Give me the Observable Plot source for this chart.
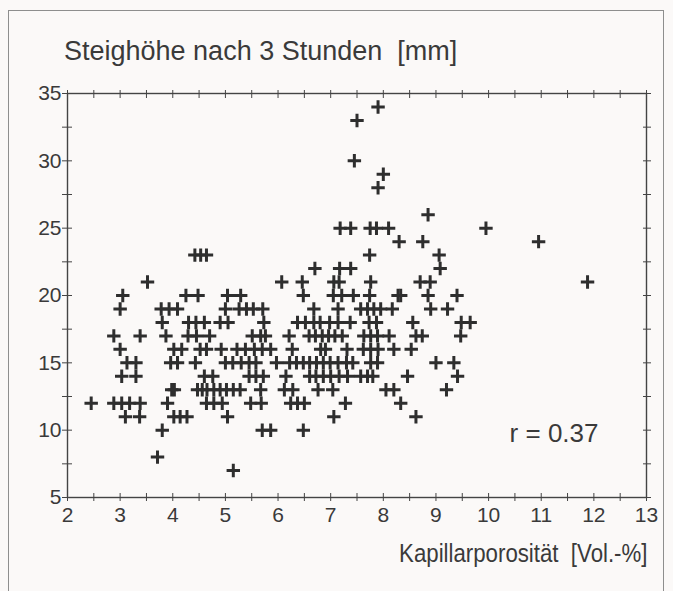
<!DOCTYPE html>
<html><head><meta charset="utf-8">
<script src="https://cdn.jsdelivr.net/npm/d3@7"></script>
<script src="https://cdn.jsdelivr.net/npm/@observablehq/plot@0.6"></script>
<style>
html,body{margin:0;padding:0;background:#fbf9f8;}
#wrap{position:relative;width:673px;height:591px;overflow:hidden;font-family:"Liberation Sans",Arial,sans-serif;color:#3a3a3a;}
#border{position:absolute;left:8px;top:10px;width:656px;height:620px;border:1.5px solid #8e8e8e;box-sizing:border-box;}
#title{position:absolute;left:64px;top:36px;font-size:27px;white-space:pre;}
#xlabel{position:absolute;right:26px;top:538px;font-size:26px;white-space:pre;transform:scaleX(0.855);transform-origin:right center;}
#chart{position:absolute;left:0;top:0;}
</style></head><body>
<div id="wrap"><div id="border"></div><div id="chart"></div><div id="title"></div><div id="xlabel"></div></div>
<script>
// Texts
const titleText = "Steighöhe nach 3 Stunden  [mm]";
const xLabelText = "Kapillarporosität  [Vol.-%]";
const corrLabel = ["r = 0.37"];

// Tick values
const xTickLabels = [2,3,4,5,6,7,8,9,10,11,12,13];
const xTicks = [2,2.5,3,3.5,4,4.5,5,5.5,6,6.5,7,7.5,8,8.5,9,9.5,10,10.5,11,11.5,12,12.5,13];
const yTickLabels = [5,10,15,20,25,30,35];
const yTicks = [5,7.5,10,12.5,15,17.5,20,22.5,25,27.5,30,32.5,35];

// Rise height levels (mm) and the porosity values (Vol.-%) at each level
const levels = [34,33,30,29,28,26,25,24,23,22,21,20,19,18,17,16,15,14,13,12,11,10,8,7];
const x34 = [7.9];
const x33 = [7.5];
const x30 = [7.45];
const x29 = [8.0];
const x28 = [7.9];
const x26 = [8.85];
const x25 = [7.18,7.38,7.75,7.87,8.1,9.95];
const x24 = [8.3,8.75,10.95];
const x23 = [4.42,4.53,4.64,7.74,9.06];
const x22 = [6.7,7.17,7.38,9.08];
const x21 = [3.52,6.07,6.46,7.06,7.16,7.76,8.7,8.89,11.88];
const x20 = [3.05,4.25,4.48,5.04,5.29,6.48,7.05,7.21,7.43,7.74,8.28,8.33,8.85,9.4];
const x19 = [3.0,3.78,3.93,4.09,5.0,5.26,5.4,5.53,5.71,6.68,7.14,7.57,7.7,7.82,7.95,8.17,8.9,9.22];
const x18 = [3.8,4.3,4.44,4.6,4.9,5.05,5.73,6.37,6.52,6.68,6.8,6.98,7.14,7.37,7.73,7.87,8.56,9.48,9.65];
const x17 = [2.88,3.38,3.87,4.29,4.45,4.7,5.51,5.67,5.76,6.21,6.59,6.71,6.84,6.96,7.08,7.22,7.63,7.76,7.89,8.11,8.62,8.74,9.47];
const x16 = [3.0,4.02,4.17,4.52,4.64,4.92,5.22,5.38,5.55,5.7,5.86,6.27,6.81,6.9,7.31,7.62,7.76,7.9,8.2,8.53];
const x15 = [3.13,3.3,3.96,4.09,4.43,5.0,5.14,5.3,5.45,5.58,5.97,6.22,6.35,6.48,6.6,6.73,6.86,6.99,7.14,7.3,7.42,7.76,7.89,9.0,9.34];
const x14 = [3.03,3.3,4.6,4.76,5.45,5.58,5.72,6.15,6.6,6.72,6.86,7.0,7.16,7.32,7.57,7.7,7.8,8.46,9.41];
const x13 = [3.98,4.03,4.47,4.56,4.65,4.78,4.9,5.02,5.15,5.28,5.67,6.12,6.28,6.76,7.04,8.05,8.2,9.2];
const x12 = [2.45,2.88,3.03,3.18,3.38,3.9,4.64,4.78,4.94,5.48,5.68,6.24,6.37,6.5,7.28,8.33];
const x11 = [3.1,3.37,4.02,4.14,4.27,5.04,7.06,8.62];
const x10 = [3.8,5.7,5.86,6.48];
const x8 = [3.71];
const x7 = [5.15];
const levelX = [x34,x33,x30,x29,x28,x26,x25,x24,x23,x22,x21,x20,x19,x18,x17,x16,x15,x14,x13,x12,x11,x10,x8,x7];

const points = levels.flatMap((y, i) => levelX[i].map(x => ({x, y})));

document.getElementById("title").textContent = titleText;
document.getElementById("xlabel").textContent = xLabelText;

const ink = "#3a3a3a";
const chart = Plot.plot({
  width: 673,
  height: 591,
  marginLeft: 67,
  marginRight: 27,
  marginTop: 93,
  marginBottom: 94,
  style: {fontFamily: "'Liberation Sans', Arial, sans-serif", fontSize: "21px", color: ink, background: "transparent", overflow: "visible"},
  x: {domain: [2, 13]},
  y: {domain: [5, 35]},
  marks: [
    Plot.frame({stroke: "#444", strokeWidth: 1.4}),
    Plot.axisX(xTickLabels, {anchor: "bottom", tickSize: 0, tickPadding: 10, fontSize: 21, label: null}),
    Plot.axisX(xTicks, {anchor: "bottom", tickSize: 8, dy: -4, fill: "none", label: null, stroke: "#444"}),
    Plot.axisX(xTicks, {anchor: "top", tickSize: 8, dy: 4, fill: "none", label: null, stroke: "#444"}),
    Plot.axisY(yTickLabels, {anchor: "left", tickSize: 0, tickPadding: 6, fontSize: 21, label: null}),
    Plot.axisY(yTicks, {anchor: "left", tickSize: 10, dx: 5, fill: "none", label: null, stroke: "#444"}),
    Plot.axisY(yTicks, {anchor: "right", tickSize: 8, dx: -4, fill: "none", label: null, stroke: "#444"}),
    Plot.dot(points, {x: "x", y: "y", symbol: "plus", r: 4.4, stroke: "#2e2e2e", strokeWidth: 3}),
    Plot.text(corrLabel, {frameAnchor: "bottom-right", dx: -48, dy: -56, textAnchor: "end", lineAnchor: "bottom", fontSize: 26, fill: ink})
  ]
});
document.getElementById("chart").appendChild(chart);
</script>
</body></html>
